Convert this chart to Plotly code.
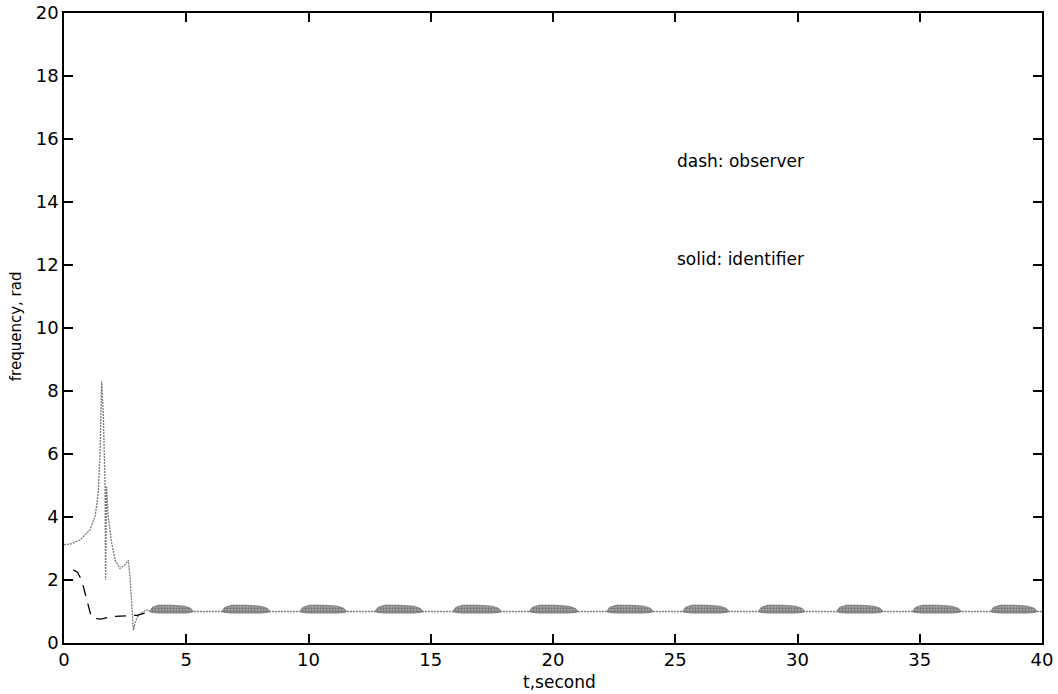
import plotly.graph_objects as go

# ---- data ----
ident_t = [0.0, 0.3, 0.65, 1.06, 1.27, 1.40, 1.47, 1.54, 1.61, 1.68, 1.70, 1.74,
           1.81, 1.95, 2.09, 2.29, 2.49, 2.63, 2.70, 2.77, 2.84, 2.90, 3.04, 3.38,
           3.6, 40.0]
ident_y = [3.12, 3.15, 3.27, 3.59, 4.01, 4.75, 5.91, 8.30, 7.18, 4.96, 2.0, 4.96,
           4.0, 3.17, 2.63, 2.37, 2.48, 2.63, 2.1, 1.26, 0.41, 0.63, 0.89, 1.05,
           1.0, 1.0]

obs_t = [0.38, 0.55, 0.72, 0.85, 0.97, 1.10, 1.20, 1.50, 2.00, 2.50, 3.00, 3.30]
obs_y = [2.32, 2.25, 2.00, 1.60, 1.20, 0.88, 0.78, 0.76, 0.84, 0.86, 0.88, 0.95]

# oscillation bands of the identifier (start / end time of each band)
blob_start = [3.5, 6.45, 9.65, 12.72, 15.9, 19.03, 22.2, 25.3, 28.4, 31.6, 34.7, 37.9]
blob_end = [5.29, 8.43, 11.56, 14.69, 17.9, 21.03, 24.1, 27.2, 30.3, 33.5, 36.7, 39.8]
blob_frac = [0.0, 0.06, 0.2, 0.5, 0.8, 0.94, 1.0]
blob_top = [1.0, 1.13, 1.2, 1.2, 1.17, 1.1, 1.0]
blob_bot = [1.0, 0.97, 0.95, 0.94, 0.95, 0.97, 1.0]

x_ticks = [0, 5, 10, 15, 20, 25, 30, 35, 40]
y_ticks = [0, 2, 4, 6, 8, 10, 12, 14, 16, 18, 20]

fig = go.Figure()

for s, e in zip(blob_start, blob_end):
    xs = [s + f * (e - s) for f in blob_frac]
    px = xs + xs[::-1]
    py = blob_top + blob_bot[::-1]
    fig.add_trace(go.Scatter(
        x=px, y=py, mode="lines", fill="toself",
        fillcolor="rgba(150,150,150,0.9)",
        fillpattern=dict(shape=".", fgcolor="#3a3a3a", bgcolor="#a8a8a8",
                         size=3, solidity=0.45),
        line=dict(color="#707070", width=0.8),
        hoverinfo="skip", showlegend=False))

fig.add_trace(go.Scatter(x=ident_t, y=ident_y, mode="lines",
                         line=dict(color="#7a7a7a", width=1.3, dash="2px,1px"),
                         showlegend=False))
fig.add_trace(go.Scatter(x=obs_t, y=obs_y, mode="lines",
                         line=dict(color="black", width=1.3, dash="11px,8px"),
                         showlegend=False))

axis_common = dict(showline=True, linecolor="black", linewidth=1.5,
                   mirror="allticks", ticks="inside", ticklen=9, tickwidth=1.5,
                   tickcolor="black", showgrid=False, zeroline=False,
                   automargin=False,
                   tickfont=dict(family="DejaVu Sans", size=18, color="black"))

fig.update_xaxes(range=[0, 40], tickvals=x_ticks, ticktext=[str(v) for v in x_ticks],
                 **axis_common)
fig.update_yaxes(range=[0, 20], tickvals=y_ticks, ticktext=[str(v) for v in y_ticks],
                 **axis_common)

fig.add_annotation(x=25, y=15.3, xref="x", yref="y", text="dash: observer",
                   showarrow=False, xanchor="left", yanchor="middle",
                   font=dict(family="DejaVu Sans", size=17, color="black"))
fig.add_annotation(x=25, y=12.2, xref="x", yref="y", text="solid: identifier",
                   showarrow=False, xanchor="left", yanchor="middle",
                   font=dict(family="DejaVu Sans", size=17, color="black"))
fig.add_annotation(x=0.507, y=-0.062, xref="paper", yref="paper", text="t,second",
                   showarrow=False, xanchor="center", yanchor="middle",
                   font=dict(family="DejaVu Sans", size=17, color="black"))
fig.add_annotation(x=-0.049, y=0.503, xref="paper", yref="paper",
                   text="frequency, rad", textangle=-90,
                   showarrow=False, xanchor="center", yanchor="middle",
                   font=dict(family="DejaVu Sans", size=15, color="black"))

fig.update_layout(width=1058, height=694,
                  margin=dict(l=64, r=16, t=13, b=51, autoexpand=False),
                  paper_bgcolor="white", plot_bgcolor="white",
                  showlegend=False)

fig.write_html("out.html")
